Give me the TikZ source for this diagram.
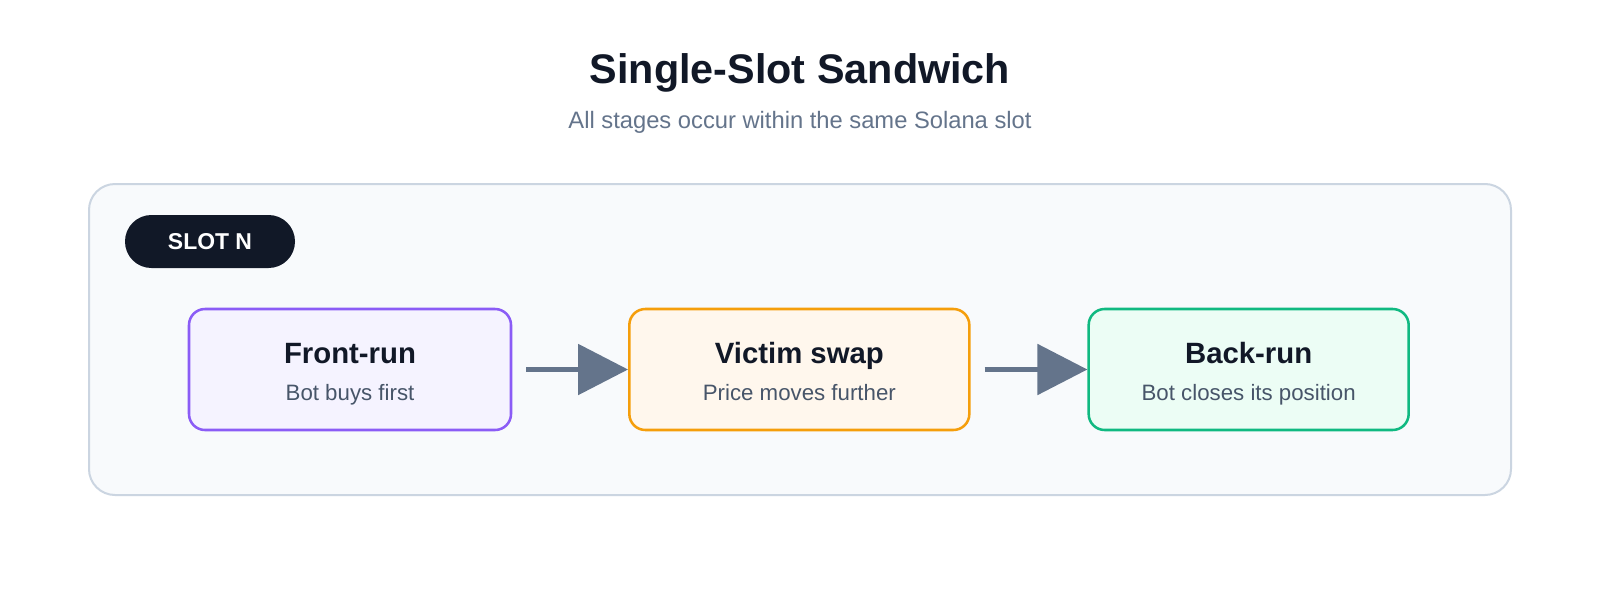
\documentclass[tikz,border=0pt]{standalone}
\usepackage{fontspec}
\setmainfont{Liberation Sans}
\usepackage{tikz}
\usetikzlibrary{arrows.meta, positioning}

\definecolor{ink}{HTML}{111827}
\definecolor{muted}{HTML}{64748B}
\definecolor{subtext}{HTML}{475569}
\definecolor{framebd}{HTML}{CBD5E1}
\definecolor{framebg}{HTML}{F8FAFC}
\definecolor{frontbd}{HTML}{8B5CF6}
\definecolor{frontbg}{HTML}{F5F3FF}
\definecolor{victimbd}{HTML}{F59E0B}
\definecolor{victimbg}{HTML}{FFF7ED}
\definecolor{backbd}{HTML}{10B981}
\definecolor{backbg}{HTML}{ECFDF5}

% stage title + one line of detail, struts keep every box aligned alike
\newcommand{\stagetext}[2]{{\fontsize{22pt}{27.75pt}\selectfont\bfseries\rule{0pt}{22pt}#1}\\{\color{subtext}\rule[-4pt]{0pt}{4pt}#2}}

\begin{document}
\begin{tikzpicture}[x=0.75pt,y=-0.75pt,node distance=337pt,on grid,>={Triangle[length=37.5pt,width=37.5pt]},
        stage/.style={draw, rounded corners=12pt, line width=1.9pt, minimum height=90.75pt,
          align=center, text=ink, inner sep=0pt, font=\fontsize{16.7pt}{27.75pt}\selectfont},
        frame/.style={draw=framebd, fill=framebg, line width=1.5pt, rounded corners=19.5pt},
        pill/.style={fill=ink, text=white, rounded corners=19.8pt, minimum width=127.5pt,
          minimum height=39.75pt, inner sep=0pt, font=\fontsize{17.2pt}{20pt}\selectfont\bfseries},
        flow/.style={color=muted, line width=4.1pt}]

      \path[use as bounding box, fill=white] (0,0) rectangle (1600,600);

      \node[anchor=base, text=ink, font=\fontsize{31pt}{36pt}\selectfont\bfseries] (title) at (800,83) {Single-Slot Sandwich};
      \node[anchor=base, text=muted, font=\fontsize{17.8pt}{21pt}\selectfont] (subtitle) at (800,128) {All stages occur within the same Solana slot};

      \draw[frame] (89,184) rectangle (1511,495);
      \node[pill] (slot) at (210,241.5) {SLOT N};

      \node[stage, draw=frontbd, fill=frontbg, minimum width=241.5pt] (front) at (350,369.5) {\stagetext{Front-run}{Bot buys first}};
      \node[stage, draw=victimbd, fill=victimbg, minimum width=255pt] (victim) [right=of front] {\stagetext{Victim swap}{Price moves further}};
      \node[stage, draw=backbd, fill=backbg, minimum width=240pt]     (back) [right=of victim] {\stagetext{Back-run}{Bot closes its position}};

      \path[->, flow] (front) edge [shorten <=10.5pt] (victim)
                      (victim) edge [shorten <=10.5pt] (back);
    \end{tikzpicture}
\end{document}
